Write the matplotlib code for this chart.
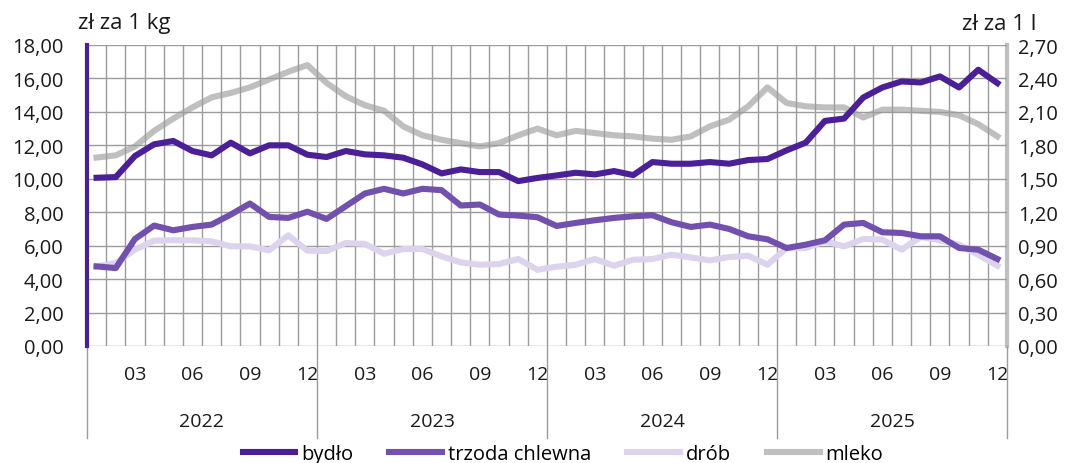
import matplotlib
matplotlib.use("Agg")
import matplotlib.pyplot as plt
from matplotlib.lines import Line2D
import numpy as np

plt.rcParams['font.family'] = ['Open Sans', 'DejaVu Sans']

years = ['2022', '2023', '2024', '2025']
month_labels = ['03', '06', '09', '12']

bydlo = [10.06, 10.1, 11.36, 12.06, 12.26, 11.66, 11.4, 12.16, 11.52, 12.0, 12.0, 11.44,
         11.3, 11.66, 11.46, 11.4, 11.26, 10.86, 10.32, 10.56, 10.4, 10.4, 9.86, 10.05,
         10.2, 10.36, 10.26, 10.46, 10.22, 11.0, 10.9, 10.9, 11.0, 10.9, 11.12, 11.18,
         11.7, 12.16, 13.46, 13.6, 14.86, 15.46, 15.82, 15.76, 16.12, 15.46, 16.52, 15.72]
trzoda = [4.76, 4.66, 6.4, 7.2, 6.92, 7.12, 7.26, 7.86, 8.52, 7.72, 7.66, 8.03,
          7.6, 8.36, 9.12, 9.4, 9.12, 9.4, 9.32, 8.4, 8.46, 7.86, 7.8, 7.7,
          7.18, 7.36, 7.52, 7.66, 7.76, 7.82, 7.4, 7.12, 7.26, 7.0, 6.56, 6.38,
          5.86, 6.06, 6.32, 7.26, 7.36, 6.8, 6.76, 6.56, 6.56, 5.86, 5.76, 5.2]
drob = [4.76, 4.96, 5.76, 6.3, 6.32, 6.32, 6.26, 5.96, 5.96, 5.72, 6.62, 5.7,
        5.68, 6.16, 6.1, 5.52, 5.8, 5.8, 5.36, 5.0, 4.86, 4.9, 5.2, 4.56,
        4.74, 4.86, 5.2, 4.8, 5.16, 5.2, 5.46, 5.3, 5.12, 5.32, 5.4, 4.86,
        5.86, 5.86, 6.26, 5.96, 6.4, 6.36, 5.76, 6.52, 6.32, 6.06, 5.46, 4.8]
mleko = [1.69, 1.71, 1.79, 1.93, 2.04, 2.14, 2.23, 2.27, 2.32, 2.39, 2.46, 2.52,
         2.36, 2.24, 2.16, 2.11, 1.97, 1.89, 1.85, 1.82, 1.79, 1.82, 1.89, 1.95,
         1.89, 1.93, 1.91, 1.89, 1.88, 1.86, 1.85, 1.88, 1.97, 2.03, 2.15, 2.32,
         2.18, 2.15, 2.14, 2.14, 2.05, 2.12, 2.12, 2.11, 2.10, 2.07, 1.99, 1.88]

c_bydlo = '#4B1F96'
c_trzoda = '#7150AE'
c_drob = '#DCD3EC'
c_mleko = '#BFBFBF'
grid_c = '#9C9C9C'
txt_c = '#1A1A1A'

fig = plt.figure(figsize=(10.78, 4.64), dpi=100)
ax = fig.add_axes([87/1078, 1-347/464, (1007-87)/1078, (347-46)/464])
ax2 = ax.twinx()

n = len(bydlo)
x = np.arange(n) + 0.5

ax.set_xlim(0, n)
ax.set_ylim(0, 18)
ax2.set_ylim(0, 2.7)

# grid
for v in np.arange(2, 18.01, 2):
    ax.axhline(v, color=grid_c, lw=1.0, zorder=0)
for b in range(1, n):
    ax.axvline(b, color=grid_c, lw=1.0, zorder=0)
ax.axhline(0, color=grid_c, lw=1.0, zorder=0)

lw = 4.4
ax.plot(x, drob, color=c_drob, lw=lw, zorder=3, solid_joinstyle='round')
ax.plot(x, trzoda, color=c_trzoda, lw=lw, zorder=4, solid_joinstyle='round')
ax.plot(x, bydlo, color=c_bydlo, lw=lw, zorder=5, solid_joinstyle='round')
ax2.plot(x, mleko, color=c_mleko, lw=lw, zorder=2, solid_joinstyle='round')
ax.set_zorder(ax2.get_zorder() + 1)
ax.patch.set_visible(False)

ax.set_yticks(np.arange(0, 18.01, 2))
ax.set_yticklabels([f'{v:.2f}'.replace('.', ',') for v in np.arange(0, 18.01, 2)])
ax2.set_yticks(np.arange(0, 2.701, 0.3))
ax2.set_yticklabels([f'{v:.2f}'.replace('.', ',') for v in np.arange(0, 2.701, 0.3)])

ax.tick_params(axis='y', length=0, labelsize=14.5, colors=txt_c, pad=17)
ax2.tick_params(axis='y', length=0, labelsize=14.5, colors=txt_c, pad=8)
for a in (ax, ax2):
    for s in a.spines.values():
        s.set_visible(False)

ax.spines['left'].set_visible(True)
ax.spines['left'].set_color(c_bydlo)
ax.spines['left'].set_linewidth(3)
ax2.spines['right'].set_visible(True)
ax2.spines['right'].set_color(c_mleko)
ax2.spines['right'].set_linewidth(3)

# x axis month labels
ticks = []
labels = []
for yi in range(len(years)):
    for mi, ml in enumerate(month_labels):
        ticks.append(yi * 12 + (mi + 1) * 3 - 0.5)
        labels.append(ml)
ax.set_xticks(ticks)
ax.set_xticklabels(labels)
ax.tick_params(axis='x', length=0, labelsize=14, colors=txt_c, pad=14)

# year labels & separators
trans = ax.get_xaxis_transform()
for yi, yr in enumerate(years):
    ax.text(yi * 12 + 6, -0.25, yr, transform=trans, ha='center', va='center',
            fontsize=14, color=txt_c)
for b in range(0, n + 1, 12):
    ax.add_line(Line2D([b, b], [0, -0.305], transform=trans, color=grid_c,
                       lw=1.0, clip_on=False))

fig.text(78/1078, 1-24/464, 'zł za 1 kg', fontsize=16, ha='left', va='center', color=txt_c)
fig.text(1036/1078, 1-24/464, 'zł za 1 l', fontsize=16, ha='right', va='center', color=txt_c)

handles = [Line2D([], [], color=c, lw=4.4) for c in (c_bydlo, c_trzoda, c_drob, c_mleko)]
fig.legend(handles, ['bydło', 'trzoda chlewna', 'drób', 'mleko'], loc='center',
           bbox_to_anchor=(563/1078, 1-455/464), ncol=4, frameon=False, fontsize=14.5,
           handlelength=2.6, handletextpad=0.3, columnspacing=1.8, borderpad=0)

fig.savefig('out.png', dpi=100)
